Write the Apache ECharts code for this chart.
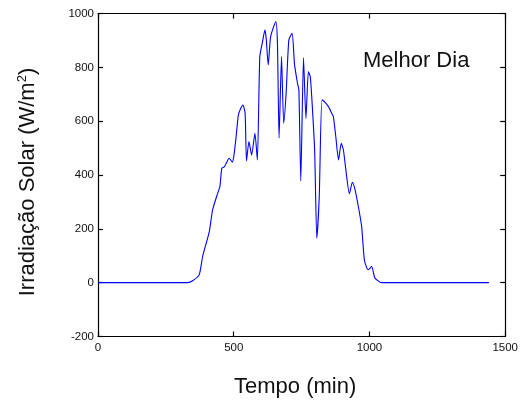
<!DOCTYPE html>
<html>
<head>
<meta charset="utf-8">
<script src="https://cdn.jsdelivr.net/npm/echarts@6/dist/echarts.min.js"></script>
<style>
  html, body { margin: 0; padding: 0; background: #fff; }
  #chart { width: 521px; height: 408px; }
</style>
</head>
<body>
<div id="chart"></div>
<script>
const timeMin = [0, 330, 350, 373, 386, 410, 422, 440, 449, 456, 465, 473, 483, 495, 501, 508, 517, 526, 534, 542,
  547, 556, 566, 578, 587, 596, 605, 615, 620, 627, 636, 655, 661, 667, 676, 684, 693, 703, 715, 724,
  735, 740, 747, 757, 766, 775, 782, 788, 798, 806, 815, 825, 837, 849, 861, 867, 876, 886, 896, 904,
  916, 926, 937, 947, 959, 971, 981, 990, 996, 1008, 1020, 1038, 1045, 1440];
const irradiance = [0, 0, 8, 30, 100, 190, 270, 330, 357, 425, 430, 445, 462, 448, 475, 535, 623, 648, 660, 629,
  452, 524, 474, 555, 456, 840, 889, 939, 902, 809, 914, 970, 889, 537, 840, 592, 704, 902, 926, 810,
  740, 716, 378, 835, 610, 784, 765, 679, 493, 165, 320, 679, 669, 654, 629, 617, 542, 456, 518, 493,
  394, 330, 373, 345, 283, 210, 85, 55, 48, 60, 17, 2, 0, 0];
const xTicks = [0, 500, 1000, 1500];
const yTicks = [-200, 0, 200, 400, 600, 800, 1000];

const seriesData = timeMin.map((t, i) => [t, irradiance[i]]);

const chart = echarts.init(document.getElementById('chart'), null, { renderer: 'canvas' });

const tickFont = {
  color: '#111', fontSize: 11.5, fontFamily: 'Liberation Sans, Arial, sans-serif',
  formatter: (v) => String(v),
};
const titleFont = 'Liberation Sans, Arial, sans-serif';

const boxAxis = (extra) => Object.assign({
  type: 'value',
  splitLine: { show: false },
  axisLine: { show: true, onZero: false, lineStyle: { color: '#000', width: 1.2 } },
  axisTick: { show: true, inside: true, length: 5, lineStyle: { color: '#000', width: 1.2 } },
}, extra);

chart.setOption({
  animation: false,
  grid: { left: 98, right: 13.5, top: 13.5, bottom: 71.5 },
  xAxis: [
    boxAxis({
      position: 'bottom', min: xTicks[0], max: xTicks[xTicks.length - 1], interval: 500,
      axisLabel: Object.assign({ margin: 5 }, tickFont),
    }),
    boxAxis({
      position: 'top', min: xTicks[0], max: xTicks[xTicks.length - 1], interval: 500,
      axisLabel: { show: false },
    }),
  ],
  yAxis: [
    boxAxis({
      position: 'left', min: yTicks[0], max: yTicks[yTicks.length - 1], interval: 200,
      axisLabel: Object.assign({ margin: 4 }, tickFont),
    }),
    boxAxis({
      position: 'right', min: yTicks[0], max: yTicks[yTicks.length - 1], interval: 200,
      axisLabel: { show: false },
    }),
  ],
  graphic: [
    {
      type: 'text', left: 234, top: 376,
      style: { text: 'Tempo (min)', font: '22px ' + titleFont, fill: '#111' },
    },
    {
      type: 'text', x: 28, y: 182, rotation: Math.PI / 2,
      style: {
        text: 'Irradiação Solar (W/m{s|2})', fill: '#111', font: '22px ' + titleFont,
        align: 'center', verticalAlign: 'middle',
        rich: { s: { fontSize: 13, padding: [0, 0, 12, 0], fontFamily: titleFont } },
      },
    },
    {
      type: 'text', left: 363, top: 50,
      style: { text: 'Melhor Dia', font: '22px ' + titleFont, fill: '#111' },
    },
  ],
  series: [
    {
      type: 'line',
      data: seriesData,
      showSymbol: false,
      symbol: 'none',
      smooth: 0.2,
      lineStyle: { color: '#0000ff', width: 1.1 },
    },
  ],
});
</script>
</body>
</html>
